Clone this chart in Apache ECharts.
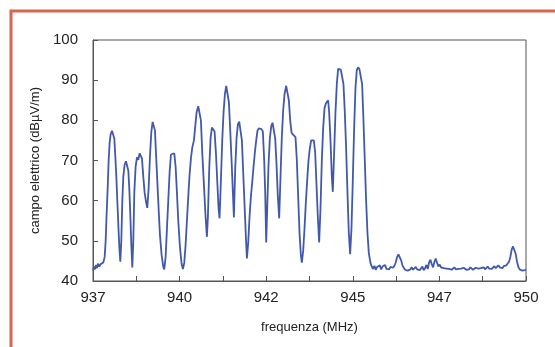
<!DOCTYPE html>
<html>
<head>
<meta charset="utf-8">
<script src="https://cdn.jsdelivr.net/npm/echarts@6/dist/echarts.min.js"></script>
<style>
  html, body { margin: 0; padding: 0; background: #ffffff; }
  #chart { width: 555px; height: 347px; }
</style>
</head>
<body>
<div id="chart"></div>
<script>
// Occupied GSM channels, 937 – 945.4 MHz (frequency in MHz, field in dBµV/m)
const bandFreq = [
  937.00, 937.03, 937.06, 937.09, 937.12, 937.15, 937.19, 937.23, 937.27, 937.31,
  937.35, 937.38, 937.41, 937.44, 937.47, 937.50, 937.53, 937.57, 937.61, 937.64,
  937.67, 937.70, 937.73, 937.76, 937.79, 937.82, 937.85, 937.88, 937.91, 937.95,
  937.99, 938.03, 938.06, 938.09, 938.12, 938.15, 938.18, 938.21, 938.24, 938.28,
  938.32, 938.36, 938.40, 938.44, 938.47, 938.51, 938.55, 938.59, 938.63, 938.67,
  938.71, 938.75, 938.79, 938.83, 938.86, 938.89, 938.93, 938.97, 939.01, 939.06,
  939.11, 939.14, 939.18, 939.22, 939.26, 939.30, 939.34, 939.39, 939.44, 939.48,
  939.52, 939.56, 939.61, 939.66, 939.70, 939.74, 939.78, 939.82, 939.86, 939.90,
  939.94, 939.98, 940.03, 940.07, 940.11, 940.16, 940.20, 940.24, 940.28, 940.33,
  940.38, 940.42, 940.45, 940.49, 940.53, 940.57, 940.61, 940.65, 940.69, 940.73,
  940.77, 940.80, 940.84, 940.88, 940.92, 940.96, 941.00, 941.04, 941.08, 941.12,
  941.16, 941.20, 941.23, 941.27, 941.31, 941.35, 941.39, 941.43, 941.47, 941.51,
  941.55, 941.59, 941.62, 941.66, 941.70, 941.74, 941.78, 941.82, 941.86, 941.90,
  941.94, 941.98, 942.02, 942.06, 942.10, 942.14, 942.17, 942.20, 942.23, 942.27,
  942.31, 942.35, 942.39, 942.43, 942.47, 942.51, 942.55, 942.59, 942.63, 942.67,
  942.71, 942.75, 942.80, 942.84, 942.88, 942.92, 942.96, 943.00, 943.04, 943.08,
  943.12, 943.16, 943.20, 943.24, 943.27, 943.31, 943.35, 943.39, 943.43, 943.47,
  943.51, 943.55, 943.59, 943.63, 943.67, 943.71, 943.75, 943.79, 943.83, 943.87,
  943.91, 943.95, 943.99, 944.03, 944.06, 944.09, 944.13, 944.17, 944.20, 944.24,
  944.28, 944.32, 944.36, 944.40, 944.44, 944.48, 944.52, 944.56, 944.60, 944.64,
  944.68, 944.72, 944.76, 944.80, 944.84, 944.88, 944.92, 944.96, 945.00, 945.04,
  945.08, 945.12, 945.16, 945.20, 945.24, 945.28, 945.33, 945.37
];
const bandLevel = [
  42.6, 43.6, 42.9, 44.0, 43.2, 44.3, 43.6, 44.2, 43.8, 44.6,
  46.0, 50.0, 57.0, 63.0, 70.0, 74.5, 76.5, 77.4, 77.3, 75.5,
  71.0, 66.0, 60.0, 54.0, 48.5, 44.8, 50.0, 60.0, 66.0, 69.0,
  69.8, 69.5, 67.5, 63.0, 56.5, 49.0, 43.4, 50.0, 62.0, 68.5,
  70.8, 70.2, 71.8, 72.0, 70.5, 66.0, 62.0, 59.8, 58.2, 63.0,
  71.0, 77.0, 79.6, 79.5, 77.5, 72.0, 65.0, 58.0, 51.5, 46.5,
  43.5, 42.9, 46.0, 53.0, 60.0, 67.0, 71.5, 71.9, 71.8, 68.5,
  62.0, 55.0, 48.5, 44.3, 43.0, 44.5, 49.0, 55.0, 61.0, 66.5,
  70.5, 73.2, 75.0, 78.5, 82.0, 83.5, 83.3, 80.0, 72.0, 64.0,
  56.0, 51.0, 56.0, 68.0, 75.5, 78.2, 78.5, 77.2, 72.0, 65.0,
  58.0, 55.6, 65.0, 75.0, 82.0, 86.5, 88.6, 88.3, 84.5, 77.5,
  70.0, 62.0, 55.8, 68.0, 75.5, 79.0, 79.7, 79.3, 75.0, 67.0,
  59.0, 51.0, 45.6, 49.5, 56.0, 61.0, 64.5, 68.5, 72.0, 75.0,
  77.5, 78.0, 77.6, 77.8, 77.2, 70.0, 62.0, 49.6, 58.0, 69.0,
  75.5, 78.5, 79.4, 79.0, 75.5, 69.0, 61.0, 55.6, 66.0, 76.0,
  82.5, 86.5, 88.6, 88.4, 85.0, 80.0, 77.0, 76.5, 76.6, 75.8,
  70.0, 61.0, 52.0, 46.5, 44.6, 47.5, 53.0, 59.5, 65.0, 70.0,
  73.0, 75.0, 75.4, 75.0, 72.0, 64.0, 56.0, 49.6, 58.0, 70.0,
  78.0, 83.0, 84.2, 84.4, 85.0, 82.0, 75.0, 66.0, 62.2, 72.0,
  82.0, 89.0, 92.8, 93.2, 92.6, 93.0, 89.0, 82.0, 73.0, 62.0,
  52.0, 46.7, 53.0, 65.0, 78.0, 88.0, 92.5, 93.2, 92.7, 93.0,
  89.0, 80.0, 70.0, 60.0, 52.0, 47.0, 44.5, 43.6
];

// Noise floor above the occupied band, 945.4 – 950 MHz
const floorFreq = [
  945.41, 945.45, 945.49, 945.53, 945.57, 945.61, 945.65, 945.69, 945.73, 945.77,
  945.81, 945.85, 945.89, 945.93, 945.97, 946.01, 946.05, 946.09, 946.13, 946.17,
  946.21, 946.25, 946.29, 946.33, 946.37, 946.41, 946.45, 946.49, 946.53, 946.57,
  946.61, 946.65, 946.69, 946.73, 946.77, 946.81, 946.85, 946.89, 946.93, 946.97,
  947.01, 947.05, 947.09, 947.13, 947.17, 947.21, 947.25, 947.29, 947.33, 947.37,
  947.41, 947.45, 947.49, 947.53, 947.57, 947.61, 947.65, 947.69, 947.73, 947.77,
  947.81, 947.85, 947.89, 947.93, 947.97, 948.01, 948.05, 948.09, 948.13, 948.17,
  948.21, 948.25, 948.29, 948.33, 948.37, 948.41, 948.45, 948.49, 948.53, 948.57,
  948.61, 948.65, 948.69, 948.73, 948.77, 948.81, 948.85, 948.89, 948.93, 948.97,
  949.01, 949.05, 949.09, 949.13, 949.17, 949.21, 949.25, 949.29, 949.33, 949.37,
  949.41, 949.45, 949.49, 949.53, 949.57, 949.61, 949.65, 949.69, 949.73, 949.77,
  949.81, 949.85, 949.89, 949.93, 949.97, 950.00
];
const floorLevel = [
  43.0, 43.8, 42.8, 43.5, 43.1, 43.9, 42.9, 43.6, 43.2, 44.0,
  43.0, 43.4, 42.9, 43.5, 43.1, 43.3, 43.8, 44.6, 46.0, 46.6,
  46.4, 45.2, 43.9, 43.3, 42.8, 43.2, 42.6, 43.0, 42.9, 43.4,
  42.8, 43.1, 43.5, 42.9, 43.3, 42.7, 43.0, 43.6, 42.7, 43.2,
  44.0, 43.0, 44.6, 45.3, 44.2, 43.4, 44.8, 45.6, 44.5, 43.6,
  44.1, 43.4, 43.8, 43.2, 43.6, 43.1, 43.4, 43.0, 43.3, 42.8,
  43.1, 43.4, 42.9, 43.2, 43.0, 42.7, 43.1, 42.9, 43.3, 43.0,
  42.8, 43.2, 42.9, 43.4, 43.1, 42.8, 43.0, 43.3, 42.9, 43.1,
  42.7, 43.2, 43.0, 43.4, 42.9, 43.2, 43.6, 43.1, 43.4, 43.0,
  43.3, 43.7, 43.2, 43.5, 43.9, 43.4, 43.6, 43.2, 43.7, 43.4,
  43.9, 44.3, 44.8, 46.0, 47.8, 48.6, 48.4, 46.8, 44.8, 43.5,
  42.9, 43.2, 42.6, 43.0, 42.7, 42.9
];

// Frequency axis: ticks every 1.3 MHz, labels on every other tick (rounded)
const freqTicks = [937, 938.3, 939.6, 940.9, 942.2, 943.5, 944.8, 946.1, 947.4, 948.7, 950];
const freqLabelTicks = [937, 939.6, 942.2, 944.8, 947.4, 950];

const points = [];
bandFreq.forEach((f, i) => points.push([f, bandLevel[i]]));
floorFreq.forEach((f, i) => points.push([f, floorLevel[i]]));

const chart = echarts.init(document.getElementById('chart'), null, { renderer: 'canvas' });
const textFont = 'Liberation Sans, Arial, sans-serif';

chart.setOption({
  animation: false,
  backgroundColor: '#ffffff',
  graphic: [{
    type: 'rect',
    silent: true,
    shape: { x: 11, y: 11, width: 620, height: 420 },
    style: { fill: 'none', stroke: '#d9654f', lineWidth: 3 }
  }],
  grid: {
    left: 93, right: 29, top: 40, bottom: 66,
    show: true, borderColor: '#555555', borderWidth: 1
  },
  xAxis: {
    type: 'value',
    min: 937, max: 950,
    name: 'frequenza (MHz)',
    nameLocation: 'middle',
    nameGap: 40,
    nameTextStyle: { fontFamily: textFont, fontSize: 13, color: '#222' },
    axisLine: { show: true, lineStyle: { color: '#555555', width: 1 } },
    axisTick: { show: true, inside: true, length: 5, customValues: freqTicks,
                lineStyle: { color: '#555555' } },
    axisLabel: { customValues: freqLabelTicks, margin: 9,
                 formatter: v => String(Math.round(v)),
                 fontFamily: textFont, fontSize: 15, color: '#222' },
    splitLine: { show: false }
  },
  yAxis: {
    type: 'value',
    min: 40, max: 100, interval: 10,
    name: 'campo elettrico (dBµV/m)',
    nameLocation: 'middle',
    nameGap: 48,
    nameTextStyle: { fontFamily: textFont, fontSize: 13, color: '#222' },
    axisLine: { show: true, lineStyle: { color: '#555555', width: 1 } },
    axisTick: { show: true, inside: true, length: 5, lineStyle: { color: '#555555' } },
    axisLabel: { margin: 15, fontFamily: textFont, fontSize: 15, color: '#222' },
    splitLine: { show: false }
  },
  series: [{
    type: 'line',
    data: points,
    showSymbol: false,
    lineStyle: { color: '#4259ab', width: 1.8 },
    z: 3
  }]
});
</script>
</body>
</html>
